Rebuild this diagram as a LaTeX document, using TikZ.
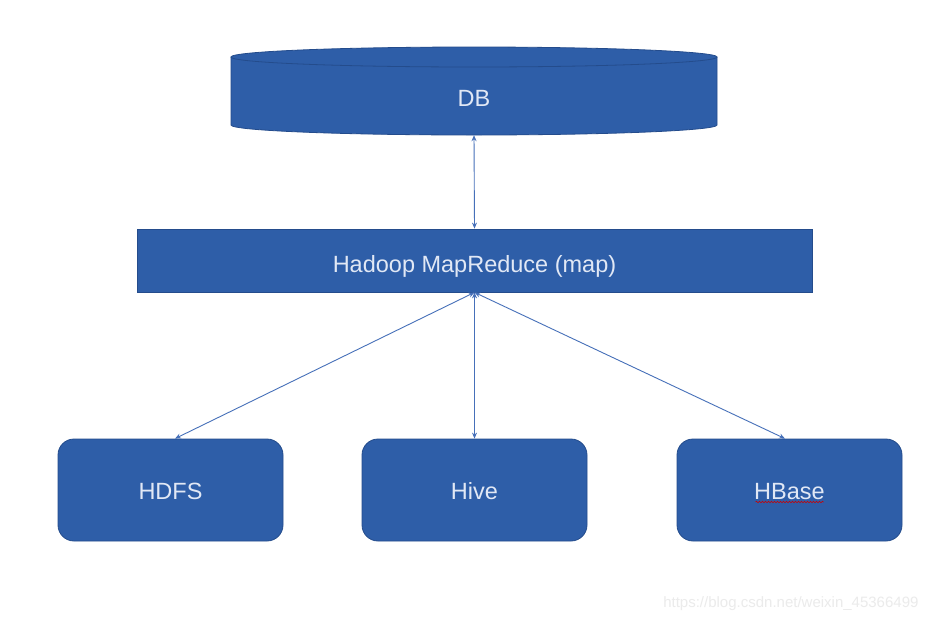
\documentclass[tikz,border=0pt]{standalone}
\usepackage{fontspec}
\setmainfont{Liberation Sans}
\usetikzlibrary{arrows.meta,decorations.pathmorphing}
\definecolor{boxfill}{RGB}{46,94,168}
\definecolor{boxedge}{RGB}{36,76,140}
\definecolor{lblcol}{RGB}{225,232,245}
\definecolor{linecol}{RGB}{70,112,185}
\tikzset{
  x=1pt,y=1pt,
  blockbox/.style={fill=boxfill,draw=boxedge,line width=0.8pt,inner sep=0pt},
  roundbox/.style={blockbox,rounded corners=16pt,minimum width=225pt,minimum height=102pt},
  lbl/.style={text=lblcol,font=\fontsize{23.5}{26}\selectfont,anchor=base,inner sep=0pt},
  conn/.style={draw=linecol,line width=0.9pt,{Stealth[length=6pt,width=5pt]}-{Stealth[length=6pt,width=5pt]}}
}
\begin{document}
\begin{tikzpicture}
\useasboundingbox (0,0) rectangle (932,-622);
\fill[white] (0,0) rectangle (932,-622);
% DB cylinder
\fill[boxfill] (231,-57) -- (231,-125) arc[start angle=180,end angle=360,x radius=243,y radius=10]
  -- (717,-57) arc[start angle=0,end angle=180,x radius=243,y radius=10] -- cycle;
\draw[boxedge,line width=0.8pt] (231,-57) -- (231,-125) arc[start angle=180,end angle=360,x radius=243,y radius=10]
  -- (717,-57);
\draw[boxedge,line width=0.8pt] (474,-57) ellipse[x radius=243,y radius=10];
\node[minimum width=486pt,minimum height=88pt,inner sep=0pt] (db) at (474,-91) {};
\node[lbl] at (474,-106) {DB};
% Hadoop
\node[blockbox,minimum width=675pt,minimum height=63pt] (hadoop) at (474.5,-260.5) {};
\node[lbl] at (474.5,-272) {Hadoop MapReduce (map)};
% bottom boxes
\node[roundbox] (hdfs) at (170.5,-490) {};
\node[roundbox] (hive) at (474.5,-490) {};
\node[roundbox] (hbase) at (789.5,-490) {};
\node[lbl] at (170.5,-499) {HDFS};
\node[lbl] at (474.5,-499) {Hive};
\node[lbl] at (789.5,-499) {HBase};
% underline squiggle
\draw[red!80!black,line width=0.6pt,decorate,decoration={snake,amplitude=0.7pt,segment length=3pt}]
  ([xshift=-34pt,yshift=-12pt]hbase.center) -- ([xshift=34pt,yshift=-12pt]hbase.center);
% connectors
\draw[conn] (db.south) -- (hadoop.north);
\draw[conn] (hadoop.south) -- ([xshift=4.5pt]hdfs.north);
\draw[conn] (hadoop.south) -- (hive.north);
\draw[conn] (hadoop.south) -- ([xshift=-4.5pt]hbase.north);
% watermark
\node[text=black!8,font=\fontsize{15}{17}\selectfont,anchor=east] at (922,-604) {https://blog.csdn.net/weixin\_45366499};
\end{tikzpicture}
\end{document}
